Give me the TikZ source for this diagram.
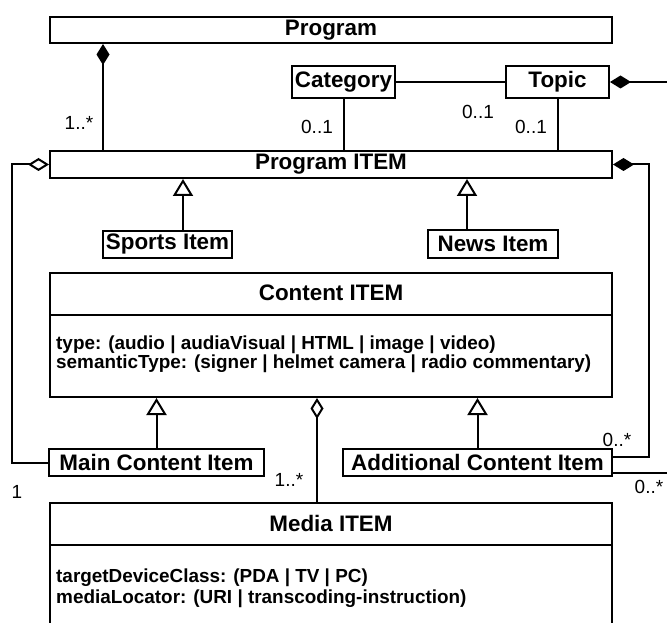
\documentclass[tikz,border=0pt]{standalone}
\usepackage{fontspec}
\setmainfont{Liberation Sans}
\usetikzlibrary{arrows.meta,calc}
\newcommand\umltitle{\bfseries\fontsize{22.4}{26}\selectfont}
\newcommand\umlattr{\bfseries\fontsize{18.9}{21}\selectfont}
\newcommand\umlmult{\fontsize{19}{22}\selectfont}
\begin{document}
\begin{tikzpicture}[x=1pt,y=-1pt,
  classbox/.style={draw,line width=2pt,fill=white,inner sep=0pt,font=\umltitle},
  conn/.style={line width=2pt},
  mult/.style={inner sep=0pt,font=\umlmult},
  attr/.style={inner sep=0pt,anchor=west,font=\umlattr},
  compo/.style={conn,-{Diamond[length=21pt,width=13pt,fill=black]}},
  aggr/.style={conn,-{Diamond[open,length=21pt,width=13pt,fill=white]}},
  inherit/.style={conn,-{Triangle[open,length=17pt,width=20pt,fill=white]}}]
\clip (0,0) rectangle (667,623);
\fill[white] (0,0) rectangle (667,623);

% classes
\node[classbox,minimum width=562pt,minimum height=26pt] (prog) at (331,30) {Program};
\node[classbox,minimum width=103pt,minimum height=32pt] (cat) at (343.5,82) {Category};
\node[classbox,minimum width=103pt,minimum height=32pt] (topic) at (557.5,82) {Topic};
\node[classbox,minimum width=562pt,minimum height=27pt] (pitem) at (331,164.5) {Program ITEM};
\node[classbox,minimum width=129pt,minimum height=27pt] (sports) at (167.5,244.5) {Sports Item};
\node[classbox,minimum width=130pt,minimum height=28pt] (news) at (493,244) {News Item};
\node[classbox,minimum width=562pt,minimum height=124pt] (content) at (331,335) {};
\node[classbox,minimum width=215pt,minimum height=27pt] (main) at (156.5,462.5) {Main Content Item};
\node[classbox,minimum width=269pt,minimum height=27pt] (addl) at (477.5,462.5) {Additional Content Item};
\node[classbox,minimum width=562pt,minimum height=137pt] (media) at (331,571.5) {};

% compartments of Content ITEM
\node[inner sep=0pt,font=\umltitle] (ctitle) at (331,293) {Content ITEM};
\draw[line width=2pt] (content.west |- 0,315) -- (content.east |- 0,315);
\node[attr] (cattr1) at (56,345) {type: (audio | audiaVisual | HTML | image | video)};
\node[attr] (cattr2) at (56,364) {semanticType: (signer | helmet camera | radio commentary)};

% compartments of Media ITEM
\node[inner sep=0pt,font=\umltitle] (mtitle) at (331,523) {Media ITEM};
\draw[line width=2pt] (media.west |- 0,545) -- (media.east |- 0,545);
\node[attr] (mattr1) at (56,578) {targetDeviceClass: (PDA | TV | PC)};
\node[attr] (mattr2) at (56,599) {mediaLocator: (URI | transcoding-instruction)};

% associations
\draw[compo] (pitem.north -| 103,0) -- (prog.south -| 103,0);
\draw[conn] (cat.south) -- (pitem.north -| cat.south);
\draw[conn] (topic.south) -- (pitem.north -| topic.south);
\draw[conn] (cat.east) -- (topic.west);
\coordinate (topicout) at (672,82);
\draw[compo] (topicout) -- (topic.east);
\draw[aggr] (main.west) -- (main.west -| 12,0) |- (pitem.west);
\draw[compo] ($(addl.east)+(0,-5.5)$) -- ++(36,0) |- (pitem.east);
\coordinate (addlout) at (672,473);
\draw[conn] ($(addl.east)+(0,10.5)$) -- (addlout);
\draw[aggr] (media.north -| 317,0) -- (content.south -| 317,0);

% generalizations
\draw[inherit] (sports.north -| 183,0) -- (pitem.south -| 183,0);
\draw[inherit] (news.north -| 467,0) -- (pitem.south -| 467,0);
\draw[inherit] (main.north) -- (content.south -| main.north);
\draw[inherit] (addl.north) -- (content.south -| addl.north);

% multiplicities
\node[mult] (m1) at (79,123) {1..*};
\node[mult] (m2) at (317,127) {0..1};
\node[mult] (m3) at (531,127) {0..1};
\node[mult] (m4) at (478,112) {0..1};
\node[mult] (m5) at (17,492) {1};
\node[mult] (m6) at (289,480) {1..*};
\node[mult] (m7) at (617,440) {0..*};
\node[mult] (m8) at (649,487) {0..*};
\end{tikzpicture}
\end{document}
